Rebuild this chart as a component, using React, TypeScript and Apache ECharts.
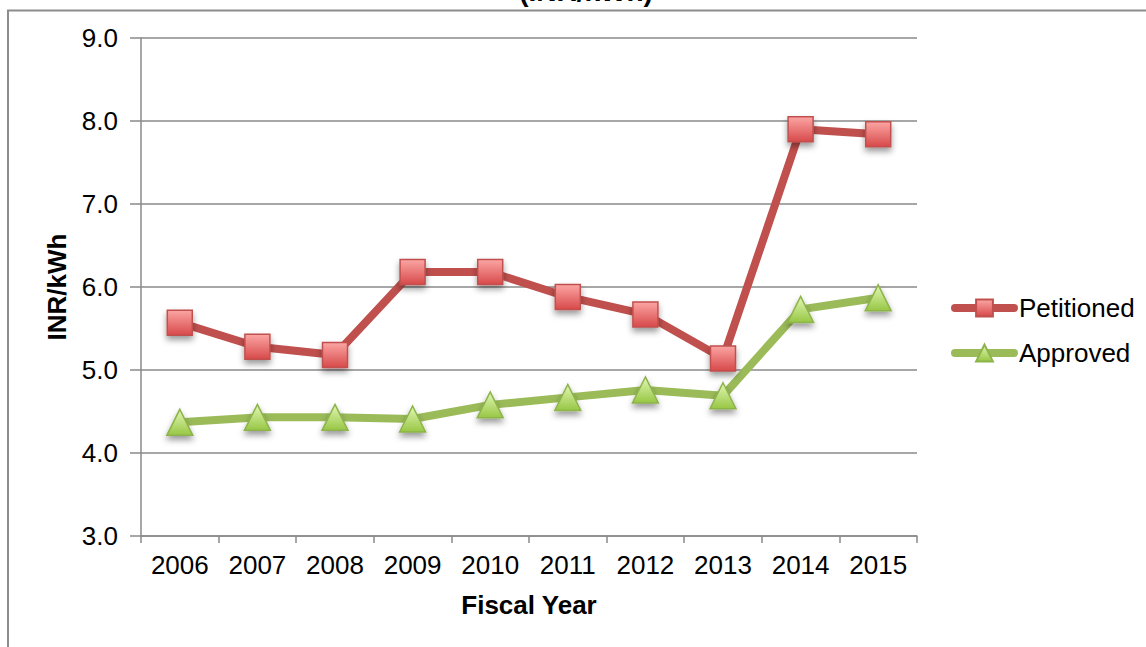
import React, { useEffect, useRef } from "react";
import * as echarts from "echarts";

const categories = ["2006", "2007", "2008", "2009", "2010", "2011", "2012", "2013", "2014", "2015"];
const petitioned = [5.57, 5.28, 5.18, 6.18, 6.18, 5.88, 5.67, 5.14, 7.9, 7.84];
const approved = [4.37, 4.43, 4.43, 4.41, 4.58, 4.67, 4.76, 4.69, 5.73, 5.87];
const titleText = "(INR/kWh)";
const xName = "Fiscal Year";
const yName = "INR/kWh";

const FONT = "'Liberation Sans', Arial, sans-serif";

export default function App() {
  const ref = useRef<HTMLDivElement>(null);
  useEffect(() => {
    if (!ref.current) return;
    const chart = echarts.init(ref.current, null, { renderer: "svg" });
    const grid = "#8a8a8a";
    const redFill = new echarts.graphic.LinearGradient(0, 0, 0, 1, [
      { offset: 0, color: "#fba6a4" },
      { offset: 1, color: "#d8494a" },
    ]);
    const greenFill = new echarts.graphic.LinearGradient(0, 0, 0, 1, [
      { offset: 0, color: "#e3f7b6" },
      { offset: 1, color: "#97c744" },
    ]);
    chart.setOption({
      animation: false,
      textStyle: { fontFamily: FONT },
      graphic: [
        {
          type: "rect",
          shape: { x: 8, y: 10.5, width: 1300, height: 800 },
          style: { fill: "none", stroke: "#8c8c8c", lineWidth: 2 },
          silent: true,
        },
        {
          type: "text",
          x: 586,
          y: -9,
          style: {
            text: titleText,
            font: `bold 28px ${FONT}`,
            fill: "#000",
            align: "center",
            verticalAlign: "middle",
          },
        },
      ],
      grid: { left: 141, top: 38, width: 776, height: 498, containLabel: false },
      legend: {
        orient: "vertical",
        left: 946,
        top: 290,
        itemWidth: 59,
        itemHeight: 21,
        itemGap: 19,
        lineStyle: { width: 8, cap: "round" },
        textStyle: { fontSize: 26, color: "#000", fontFamily: FONT },
        data: ["Petitioned", "Approved"],
      },
      xAxis: {
        type: "category",
        data: categories,
        boundaryGap: true,
        name: xName,
        nameLocation: "middle",
        nameGap: 56,
        nameTextStyle: { fontSize: 26, fontWeight: "bold", color: "#000", fontFamily: FONT },
        axisLine: { show: true, lineStyle: { color: grid, width: 1.5 } },
        axisTick: { show: true, alignWithLabel: false, length: 7, lineStyle: { color: grid, width: 1.5 } },
        axisLabel: { fontSize: 26, color: "#000", margin: 16, fontFamily: FONT, interval: 0 },
        splitLine: { show: false },
      },
      yAxis: {
        type: "value",
        min: 3,
        max: 9,
        interval: 1,
        name: yName,
        nameLocation: "middle",
        nameGap: 71,
        nameTextStyle: { fontSize: 26, fontWeight: "bold", color: "#000", fontFamily: FONT },
        axisLine: { show: true, lineStyle: { color: grid, width: 1.5 } },
        axisTick: { show: true, length: 11, lineStyle: { color: grid, width: 1.5 } },
        axisLabel: {
          fontSize: 26,
          color: "#000",
          margin: 23,
          fontFamily: FONT,
          formatter: (v: number) => v.toFixed(1),
        },
        splitLine: { show: true, lineStyle: { color: grid, width: 1.5 } },
      },
      series: [
        {
          name: "Petitioned",
          type: "line",
          data: petitioned,
          symbol: "rect",
          symbolSize: 25,
          lineStyle: { color: "#c0504d", width: 8 },
          itemStyle: {
            color: redFill,
            borderColor: "#c0504d",
            borderWidth: 1.5,
            shadowBlur: 6,
            shadowOffsetY: 4,
            shadowColor: "rgba(0,0,0,0.4)",
          },
          z: 3,
        },
        {
          name: "Approved",
          type: "line",
          data: approved,
          symbol: "triangle",
          symbolSize: 26,
          lineStyle: { color: "#9bbb59", width: 8 },
          itemStyle: {
            color: greenFill,
            borderColor: "#8db34b",
            borderWidth: 1.5,
            shadowBlur: 6,
            shadowOffsetY: 4,
            shadowColor: "rgba(0,0,0,0.4)",
          },
          z: 2,
        },
      ],
    });
    return () => chart.dispose();
  }, []);
  return (
    <div
      ref={ref}
      style={{ position: "fixed", left: 0, top: 0, width: 1146, height: 647, background: "#fff" }}
    />
  );
}
